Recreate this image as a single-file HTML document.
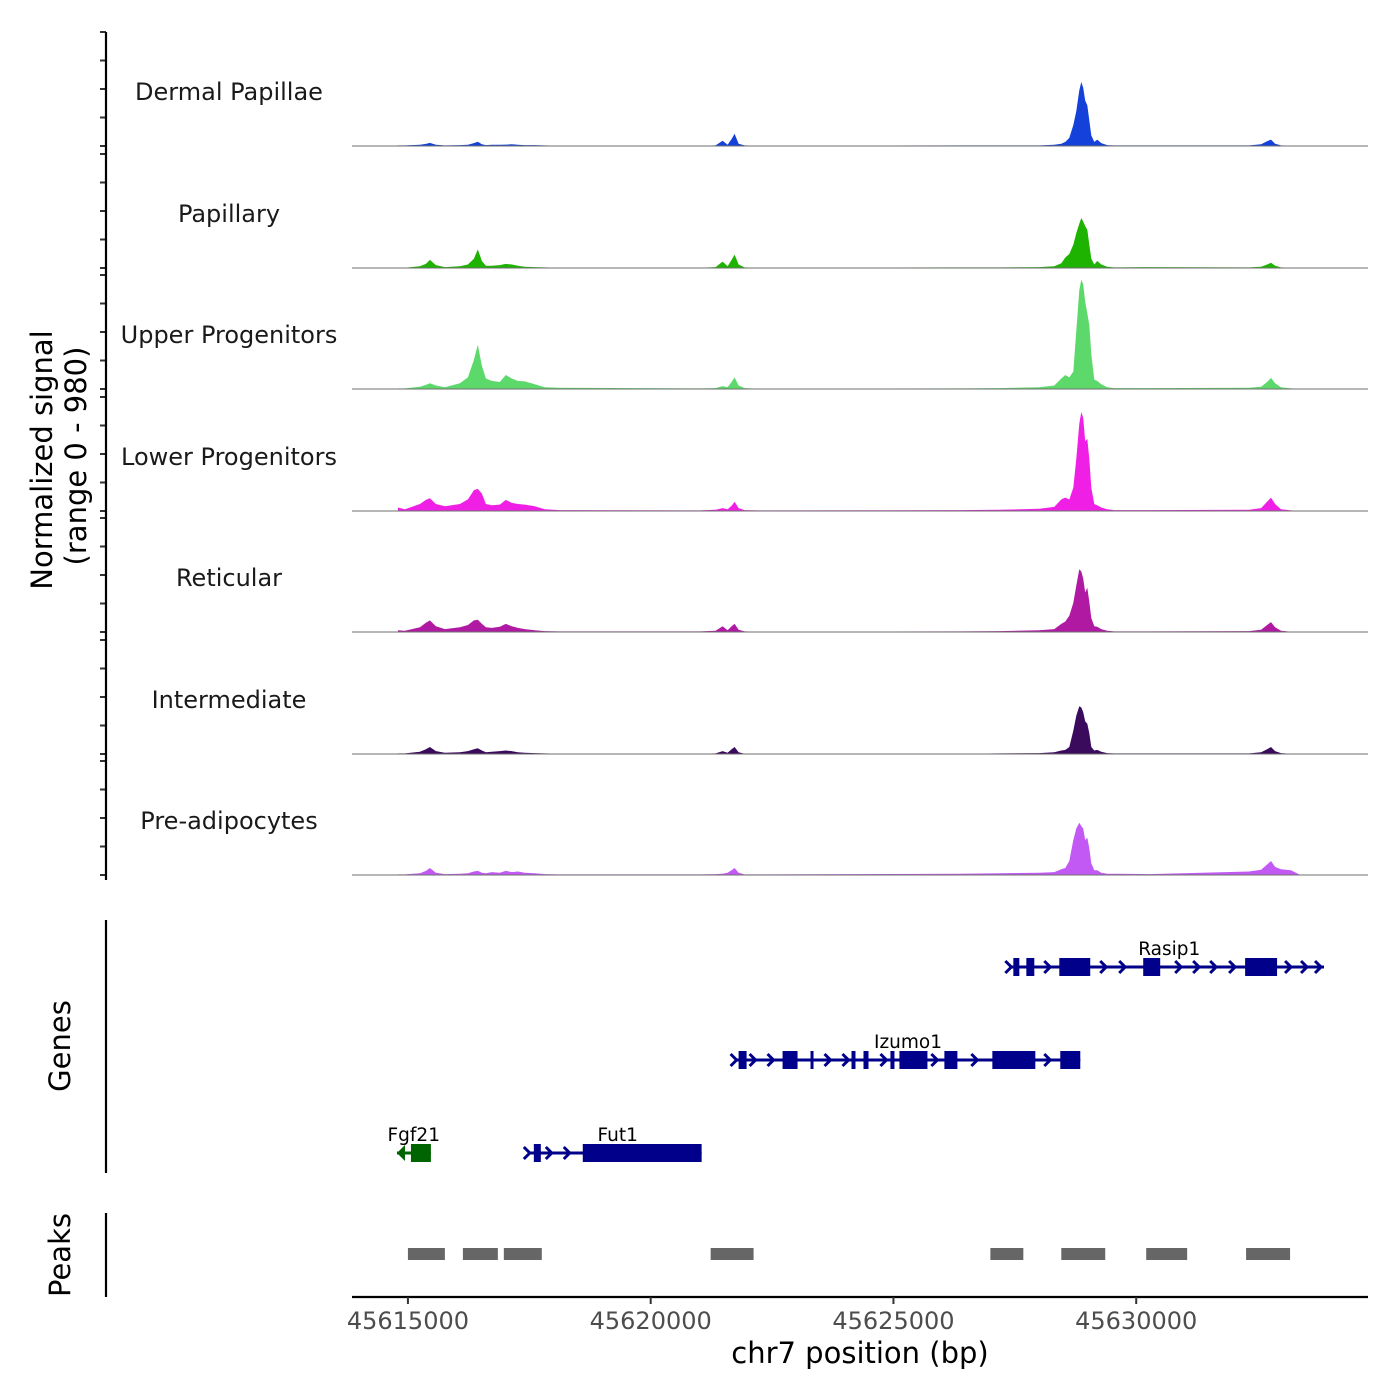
<!DOCTYPE html>
<html><head><meta charset="utf-8"><style>
html,body{margin:0;padding:0;background:#fff;width:1400px;height:1400px;overflow:hidden}
svg text{font-family:"DejaVu Sans","Liberation Sans",sans-serif}
</style></head><body>
<svg id="chart" width="1400" height="1400" xmlns="http://www.w3.org/2000/svg"></svg>
<script>
const positions=[45614794,45614938,45615247,45615370,45615453,45615576,45615761,45616070,45616235,45616358,45616440,45616523,45616605,45616728,45616893,45617016,45617140,45617263,45617407,45617613,45617819,45618128,45621008,45621337,45621481,45621584,45621667,45621728,45621811,45621934,45622243,45626358,45627181,45628004,45628313,45628457,45628539,45628621,45628704,45628765,45628827,45628868,45628909,45628950,45628992,45629033,45629074,45629136,45629197,45629280,45629403,45629547,45630267,45632325,45632572,45632695,45632777,45632860,45632983,45633189,45633354];
const trackNames=["Dermal Papillae","Papillary","Upper Progenitors","Lower Progenitors","Reticular","Intermediate","Pre-adipocytes"];
const trackColors=["#1341d9","#1db300","#5cd96a","#f01fe6","#b01aa3","#3a0a5c","#c259f5"];
const dermalPapillae=[5,5,10,18,27,10,5,8,10,25,36,15,8,10,10,12,15,10,8,8,5,3,3,5,45,10,60,105,20,5,3,5,5,5,10,20,35,70,180,300,480,550,500,390,350,220,90,35,55,25,8,5,5,5,15,40,55,20,5,3,0];
const papillary=[2,3,15,35,70,25,8,15,30,80,160,60,20,20,25,35,30,20,10,8,5,2,2,8,55,15,70,115,30,5,2,5,5,8,15,40,90,120,200,300,380,430,400,360,330,200,80,30,60,30,10,5,8,5,10,30,45,20,5,2,0];
const upperProgenitors=[5,5,20,35,50,30,15,50,100,250,380,200,90,70,60,120,90,70,65,40,15,10,5,8,25,15,60,100,30,8,3,5,8,15,30,90,120,100,150,500,850,940,900,750,650,550,300,80,70,40,15,8,8,10,20,60,95,50,15,5,2];
const lowerProgenitors=[30,15,60,95,110,60,40,60,100,180,190,150,60,50,55,95,70,60,55,40,15,8,5,10,25,15,45,80,25,8,5,8,10,20,35,100,115,100,200,450,750,850,800,600,620,450,200,60,50,30,15,8,8,10,25,80,115,60,15,5,2];
const reticular=[15,10,40,80,100,50,25,40,60,100,105,70,40,35,45,70,50,35,25,15,8,5,5,10,50,15,50,70,20,5,3,5,8,15,25,70,90,140,250,400,540,520,460,340,380,260,120,50,45,25,10,5,5,8,20,60,85,40,10,3,0];
const intermediate=[5,5,20,40,60,25,10,15,25,40,50,30,15,20,25,30,25,15,10,8,5,3,3,5,25,10,40,60,15,3,2,3,5,8,15,30,35,60,200,330,410,400,360,280,260,180,60,30,35,20,8,5,5,5,15,40,60,25,8,2,0];
const preAdipocytes=[5,5,15,35,60,20,8,10,15,30,35,20,15,25,20,35,25,30,20,15,8,5,5,8,10,20,40,60,20,5,5,10,15,20,25,50,60,120,300,400,450,420,400,300,320,230,100,40,40,20,10,10,8,30,45,90,120,70,50,40,5];
const series=[dermalPapillae,papillary,upperProgenitors,lowerProgenitors,reticular,intermediate,preAdipocytes];
const xTicks=[45615000,45620000,45625000,45630000];
const xTickLabels=["45615000","45620000","45625000","45630000"];
const peakStarts=[45615000,45616132,45616975,45621235,45626996,45628457,45630206,45632263];
const peakEnds=[45615761,45616852,45617757,45622119,45627675,45629362,45631049,45633169];
const geneNames=["Rasip1","Izumo1","Fut1","Fgf21"];
const geneStarts=[45627387,45621728,45617469,45614774];
const geneEnds=[45633868,45628848,45621049,45615473];
const geneRows=[0,1,2,2];
const geneStrand=[1,1,1,-1];
const geneColors=["#00008b","#00008b","#00008b","#006400"];
const geneExons=[
 [[45627469,45627593],[45627737,45627901],[45628416,45629053],[45630144,45630494],[45632243,45632901]],
 [[45621811,45621975],[45622716,45623025],[45623292,45623354],[45624136,45624218],[45624383,45624486],[45624938,45625021],[45625123,45625700],[45626049,45626317],[45627037,45627922],[45628436,45628848]],
 [[45617593,45617737],[45618601,45621049]],
 [[45615062,45615473]]];
const geneChevrons=[
 [45628189,45629341,45629732,45630885,45631255,45631605,45631996,45633148,45633477,45633765],
 [45622119,45622489,45623663,45624033,45624815,45625864,45626687,45628189],
 [45617922,45618292],
 []];
const geneLabelPos=[45630680,45625300,45619320,45615120];

const NS="http://www.w3.org/2000/svg";
const svg=document.getElementById('chart');
const X0=352,X1=1368,D0=45613848,D1=45634774;
function xs(v){return X0+(v-D0)/(D1-D0)*(X1-X0);}
const baselines=[146,268,389,511,632,754,875];
const pxPerUnit=114/980;
function ys(v,i){return baselines[i]-v*pxPerUnit;}
function mk(tag,attrs,parent){const e=document.createElementNS(NS,tag);for(const k in attrs)e.setAttribute(k,attrs[k]);(parent||svg).appendChild(e);return e;}
function txt(s,attrs,parent){const e=mk('text',attrs,parent);e.textContent=s;return e;}

series.forEach((vals,i)=>{
  const g=mk('g',{});
  
  
  let d='M'+xs(positions[0])+','+baselines[i];
  positions.forEach((p,j)=>{d+=' L'+xs(p).toFixed(1)+','+ys(vals[j],i).toFixed(1);});
  d+=' L'+xs(positions[positions.length-1])+','+baselines[i]+' Z';
  const a=mk('path',{d:d,fill:trackColors[i],stroke:'none'},g);
  
  
  const l=mk('line',{x1:X0,x2:X1,y1:baselines[i],y2:baselines[i],stroke:'#6f6f6f','stroke-width':1},g);
  
  
  const t=txt(trackNames[i],{x:229,y:baselines[i]-46,'text-anchor':'middle','font-size':24,fill:'#1a1a1a'},g);
  
  
  for(let k=0;k<5;k++){
    const yy=baselines[i]-k*28.5;
    const tk=mk('line',{x1:100,x2:106,y1:yy,y2:yy,stroke:'#333','stroke-width':2},g);
    
    
  }
});
[[32,880,'signal-y-axis'],[920,1173,'genes-y-axis'],[1213,1297,'peaks-y-axis']].forEach(a=>{
  const l=mk('line',{x1:106,x2:106,y1:a[0],y2:a[1],stroke:'#000','stroke-width':2.2});
  
  
});
let t=txt('Normalized signal',{x:0,y:0,'text-anchor':'middle','font-size':29,transform:'translate(52,460) rotate(-90)'});


t=txt('(range 0 - 980)',{x:0,y:0,'text-anchor':'middle','font-size':29,transform:'translate(86,456) rotate(-90)'});


t=txt('Genes',{x:0,y:0,'text-anchor':'middle','font-size':29,transform:'translate(70,1046) rotate(-90)'});


t=txt('Peaks',{x:0,y:0,'text-anchor':'middle','font-size':29,transform:'translate(70,1255) rotate(-90)'});



const rowY=[967,1060,1153];
geneNames.forEach((n,i)=>{
  const g=mk('g',{});
  
  
  const y=rowY[geneRows[i]],c=geneColors[i];
  const x1=xs(geneStarts[i]),x2=xs(geneEnds[i]);
  mk('line',{x1:x1,x2:x2,y1:y,y2:y,stroke:c,'stroke-width':3},g);
  geneExons[i].forEach(e=>{
    const r=mk('rect',{x:xs(e[0]),y:y-9,width:Math.max(3,xs(e[1])-xs(e[0])),height:18,fill:c},g);
    
    
  });
  const ch=geneChevrons[i].slice();
  if(geneStrand[i]>0) ch.push(geneStarts[i]);
  ch.forEach(p=>{const cx=xs(p);mk('path',{d:`M${cx-4},${y-6} L${cx+2},${y} L${cx-4},${y+6}`,stroke:c,'stroke-width':3,fill:'none'},g);});
  if(geneStrand[i]<0){mk('path',{d:`M${x1},${y} L${x1+8},${y-8} L${x1+8},${y+8} Z`,fill:c},g);}
  const tl=txt(n,{x:xs(geneLabelPos[i]),y:y-12,'text-anchor':'middle','font-size':18.5},g);
  
  
});

peakStarts.forEach((s,i)=>{
  const r=mk('rect',{x:xs(s),y:1248,width:xs(peakEnds[i])-xs(s),height:12,fill:'#666'});
  
  
});

const ax=mk('line',{x1:X0,x2:X1,y1:1297,y2:1297,stroke:'#000','stroke-width':2.2});


xTicks.forEach((v,i)=>{
  const tk=mk('line',{x1:xs(v),x2:xs(v),y1:1297,y2:1304,stroke:'#333','stroke-width':2});
  
  
  const tl=txt(xTickLabels[i],{x:xs(v),y:1329,'text-anchor':'middle','font-size':24,fill:'#4d4d4d'});
  
  
});
t=txt('chr7 position (bp)',{x:860,y:1363,'text-anchor':'middle','font-size':29});


</script>
</body></html>
